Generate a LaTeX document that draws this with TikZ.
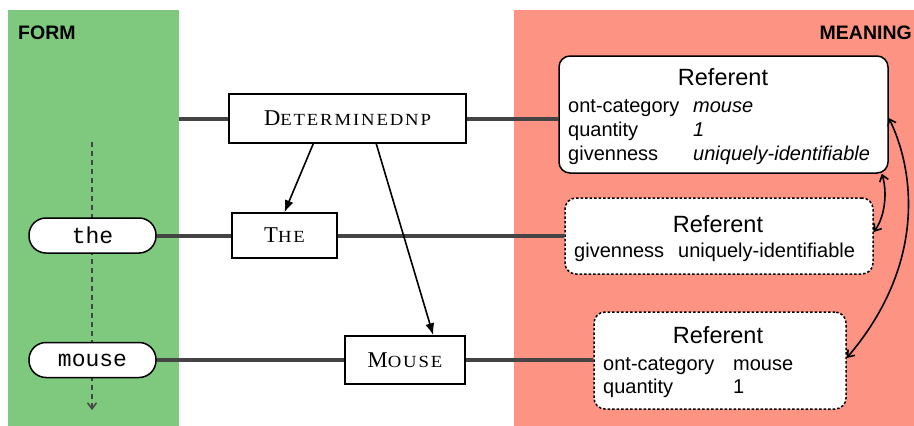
\documentclass[tikz,border=0pt]{standalone}
\usepackage{graphicx}
\usepackage{fontspec}
\setmainfont{Liberation Sans}
\setmonofont{Liberation Mono}
\newfontfamily\serifD{Liberation Serif}
\newfontfamily\serifS[LetterSpace=10]{Liberation Serif}
\usetikzlibrary{calc,arrows.meta}
\newcommand\fakesc[2]{{\serifD\fontsize{22.6}{24}\selectfont #1}\scalebox{1.1}[1]{\serifS\fontsize{17}{18}\selectfont #2}}
\definecolor{formgreen}{HTML}{7FC97F}
\definecolor{meaningred}{HTML}{FD9483}
\definecolor{conngray}{HTML}{444444}
\begin{document}
\begin{tikzpicture}[x=1pt,y=-1pt,
  thickconn/.style={draw=conngray,line width=4pt},
  cxnbox/.style={draw,line width=1.5pt,fill=white,inner sep=0pt},
  pill/.style={draw,line width=1.5pt,fill=white,rounded corners=17pt,minimum width=127pt,minimum height=35pt,inner sep=0pt,font=\ttfamily\fontsize{23}{23}\selectfont},
  refsolid/.style={draw,line width=1.5pt,fill=white,rounded corners=11pt,inner sep=0pt},
  refdash/.style={refsolid,dash pattern=on 2.5pt off 2pt},
  reftitle/.style={anchor=base,font=\fontsize{23.5}{24}\selectfont,inner sep=0pt},
  attr/.style={anchor=base west,font=\fontsize{20}{20}\selectfont,inner sep=0pt},
  link/.style={draw,line width=1.6pt,-{Latex[length=12pt,width=9pt]}},
  corr/.style={draw,line width=1.6pt,{Straight Barb[length=6pt,width=9pt]}-{Straight Barb[length=6pt,width=9pt]}},
  panellabel/.style={font=\bfseries\fontsize{19.5}{20}\selectfont,inner sep=0pt},
]
\useasboundingbox (0,0) rectangle (914,426);
% panels
\fill[formgreen] (8,10) rectangle (179,426);
\fill[meaningred] (514,10) rectangle (914,426);
\node[panellabel,anchor=base west] (formlbl) at (18,39) {FORM};
\node[panellabel,anchor=base east] (meaninglbl) at (912,39) {MEANING};

% dashed form-order arrow
\coordinate (dtop) at (92,142);
\coordinate (dbot) at (92,410);
\draw[draw=conngray,line width=1.5pt,dash pattern=on 5pt off 4pt,-{Straight Barb[length=6pt,width=9pt]}] (dtop) -- (dbot);

% construction boxes
\node[cxnbox,minimum width=237pt,minimum height=49pt] (det) at (347.5,118.5) {\fakesc{D}{ETERMINEDNP}};
\node[cxnbox,minimum width=105pt,minimum height=45pt] (the) at (284.5,235.5) {\fakesc{T}{HE}};
\node[cxnbox,minimum width=120pt,minimum height=48pt] (mouse) at (405,360) {\fakesc{M}{OUSE}};

% word forms
\node[pill] (wthe) at (92.5,235.5) {the};
\node[pill] (wmouse) at (92.5,360) {mouse};

% referent boxes
\node[refsolid,minimum width=329pt,minimum height=117pt] (r1) at (723.5,114.5) {};
\node[refdash,minimum width=308pt,minimum height=76pt] (r2) at (719,236) {};
\node[refdash,minimum width=252pt,minimum height=97pt] (r3) at (720,360.5) {};

\node[reftitle] (r1t) at (723,85) {Referent};
\node[attr] (r1a) at (568,112) {ont-category};
\node[attr] (r1av) at (693,112) {\itshape mouse};
\node[attr] (r1b) at (568,136) {quantity};
\node[attr] (r1bv) at (693,136) {\itshape 1};
\node[attr] (r1c) at (568,160) {givenness};
\node[attr] (r1cv) at (693,160) {\itshape uniquely-identifiable};

\node[reftitle] (r2t) at (718,232) {Referent};
\node[attr] (r2a) at (574,257) {givenness};
\node[attr] (r2av) at (678,257) {uniquely-identifiable};

\node[reftitle] (r3t) at (718,343) {Referent};
\node[attr] (r3a) at (603,370) {ont-category};
\node[attr] (r3av) at (733,370) {mouse};
\node[attr] (r3b) at (603,393) {quantity};
\node[attr] (r3bv) at (733,393) {1};

% thick form-meaning connectors
\coordinate (formedge) at (179,118.5);
\draw[thickconn] (formedge) -- (det.west);
\draw[thickconn] (det.east) -- (det.east -| r1.west);
\draw[thickconn] (wthe.east) -- (the.west);
\draw[thickconn] (the.east) -- (the.east -| r2.west);
\draw[thickconn] (wmouse.east) -- (mouse.west);
\draw[thickconn] (mouse.east) -- (mouse.east -| r3.west);

% constituent arrows
\draw[link] ($(det.south west)+(85,0)$) -- (the.north);
\draw[link] ($(det.south west)+(148,0)$) -- ($(mouse.north west)+(89,0)$);

% coreference arrows
\draw[corr] ($(r1.south east)+(-7,0)$) .. controls (887,190) and (886,215) .. ($(r2.east)+(0,-4)$);
\draw[corr] ($(r1.east)+(0,3.5)$) .. controls (912,165) and (930,260) .. ($(r3.east)+(0,-2.5)$);
\end{tikzpicture}
\end{document}
